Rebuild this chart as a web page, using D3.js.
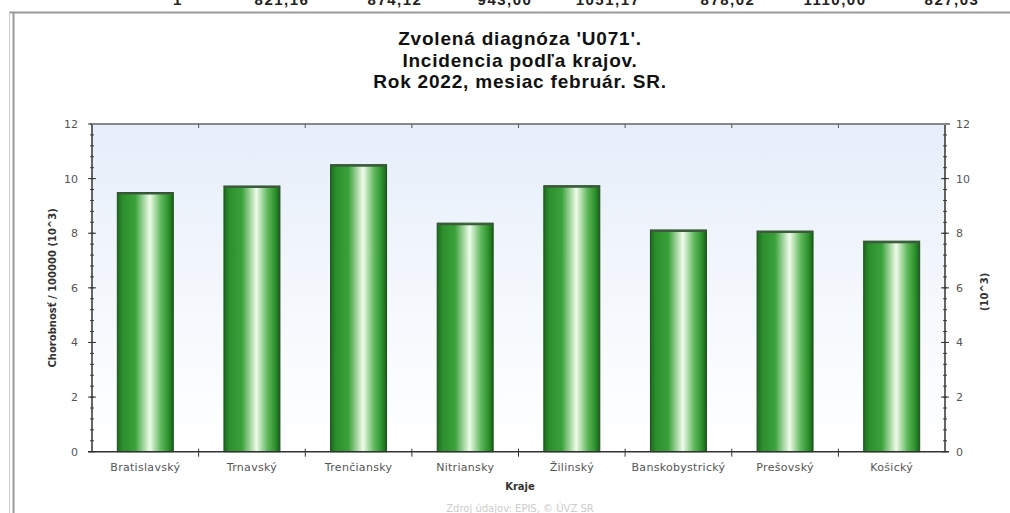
<!DOCTYPE html>
<html>
<head>
<meta charset="utf-8">
<script src="https://cdn.jsdelivr.net/npm/d3@7"></script>
<style>
  body { margin: 0; background: #fff; }
  svg { display: block; font-family: "DejaVu Sans", Verdana, sans-serif; }
</style>
</head>
<body>
<div id="chart"></div>
<script>
// data
var regions = ["Bratislavský", "Trnavský", "Trenčiansky", "Nitriansky", "Žilinský", "Banskobystrický", "Prešovský", "Košický"];
var incidence = [9.49, 9.73, 10.51, 8.37, 9.74, 8.12, 8.08, 7.71];
var yTicks = [0, 2, 4, 6, 8, 10, 12];
var titleLines = ["Zvolená diagnóza 'U071'.", "Incidencia podľa krajov.", "Rok 2022, mesiac február. SR."];
var topRow = ["1", "821,16", "874,12", "943,00", "1051,17", "878,02", "1110,00", "827,03"];

var width = 1010, height = 513;
var plot = {left: 92, right: 945, top: 124, bottom: 451.7};

var svg = d3.select('#chart').append('svg')
    .attr("width", width)
    .attr("height", height);

var defs = svg.append("defs");
var bg = defs.append("linearGradient").attr("id", "bg")
    .attr("x1", 0).attr("y1", 0).attr("x2", 0).attr("y2", 1);
bg.append("stop").attr("offset", "0%").attr("stop-color", "#e6eefa");
bg.append("stop").attr("offset", "60%").attr("stop-color", "#f6f9fd");
bg.append("stop").attr("offset", "100%").attr("stop-color", "#ffffff");

var barGrad = defs.append("linearGradient").attr("id", "bar")
    .attr("x1", 0).attr("y1", 0).attr("x2", 1).attr("y2", 0);
[["0%", "#1d6b1d"], ["10%", "#2c8f2c"], ["32%", "#3aa23a"], ["58%", "#effbea"], ["78%", "#5fb85c"], ["92%", "#2a902a"], ["100%", "#1b5e1b"]]
  .forEach(function(s){ barGrad.append("stop").attr("offset", s[0]).attr("stop-color", s[1]); });

// cut off row of the table above
var topX = [178, 282, 395, 505, 608, 728, 835, 952];
svg.append("g").selectAll("text")
    .data(topRow).enter().append("text")
    .attr("x", function(d, i){ return topX[i]; })
    .attr("y", 5)
    .attr("text-anchor", "middle")
    .style("font-family", "Liberation Sans, Arial, sans-serif")
    .style("font-size", "15px")
    .style("font-weight", "bold")
    .style("letter-spacing", "1.5px")
    .style("fill", "#222")
    .text(function(d){ return d; });

// frame
svg.append("line").attr("x1", 9).attr("x2", width).attr("y1", 12.5).attr("y2", 12.5)
    .style("stroke", "#9a9a9a").style("stroke-width", 2);
svg.append("line").attr("x1", 9.5).attr("x2", 9.5).attr("y1", 12).attr("y2", height)
    .style("stroke", "#c8c8c8").style("stroke-width", 1);
svg.append("line").attr("x1", 13.5).attr("x2", 13.5).attr("y1", 12).attr("y2", height)
    .style("stroke", "#9a9a9a").style("stroke-width", 2);

// title
svg.append("g").selectAll("text")
    .data(titleLines).enter().append("text")
    .attr("x", 520)
    .attr("y", function(d, i){ return 45 + i * 21.5; })
    .attr("text-anchor", "middle")
    .style("font-family", "Liberation Sans, Arial, sans-serif")
    .style("font-size", "19px")
    .style("font-weight", "bold")
    .style("letter-spacing", "0.8px")
    .style("fill", "#111")
    .text(function(d){ return d; });

var x = d3.scaleBand().domain(regions).range([plot.left, plot.right])
    .paddingInner(0.475).paddingOuter(0.2375);
var y = d3.scaleLinear().domain([0, 12]).range([plot.bottom, plot.top]);

svg.append("rect")
    .attr("x", plot.left).attr("y", plot.top)
    .attr("width", plot.right - plot.left).attr("height", plot.bottom - plot.top)
    .attr("fill", "url(#bg)");

// bars
var bars = svg.append("g").selectAll("g")
    .data(regions).enter().append("g");
bars.append("rect")
    .attr("x", function(d){ return x(d); })
    .attr("y", function(d, i){ return y(incidence[i]); })
    .attr("width", x.bandwidth())
    .attr("height", function(d, i){ return y(0) - y(incidence[i]); })
    .attr("fill", "url(#bar)")
    .style("stroke", "#1c4f1c")
    .style("stroke-width", 1);
bars.append("line")
    .attr("x1", function(d){ return x(d); })
    .attr("x2", function(d){ return x(d) + x.bandwidth(); })
    .attr("y1", function(d, i){ return y(incidence[i]) + 1; })
    .attr("y2", function(d, i){ return y(incidence[i]) + 1; })
    .style("stroke", "#3d5a3d").style("stroke-width", 2);

// axes
var minor = d3.range(0, 12.001, 0.4);
function yAxis(side) {
  var x0 = side == "left" ? plot.left : plot.right;
  var g = svg.append("g");
  g.selectAll(".minor").data(minor).enter().append("line")
    .attr("x1", x0 - 2).attr("x2", x0 + 2)
    .attr("y1", function(d){ return y(d); }).attr("y2", function(d){ return y(d); })
    .style("stroke", "#444");
  g.selectAll(".major").data(yTicks).enter().append("line")
    .attr("x1", x0 - 4).attr("x2", x0 + 4)
    .attr("y1", function(d){ return y(d); }).attr("y2", function(d){ return y(d); })
    .style("stroke", "#333");
  g.append("line").attr("x1", x0).attr("x2", x0)
    .attr("y1", plot.top).attr("y2", plot.bottom)
    .style("stroke", "#333").style("stroke-width", 1.5);
  g.selectAll("text").data(yTicks).enter().append("text")
    .attr("x", side == "left" ? x0 - 14 : x0 + 11)
    .attr("y", function(d){ return y(d) + 4; })
    .attr("text-anchor", side == "left" ? "end" : "start")
    .style("font-size", "11px")
    .style("fill", "#555")
    .text(function(d){ return d; });
}
yAxis("left");
yAxis("right");

// top and bottom lines with ticks on band boundaries
var bounds = d3.range(1, regions.length).map(function(i){ return plot.left + i * x.step(); });
svg.append("line").attr("x1", plot.left).attr("x2", plot.right + 5)
    .attr("y1", plot.top).attr("y2", plot.top)
    .style("stroke", "#888").style("stroke-width", 2);
svg.append("line").attr("x1", plot.left - 4).attr("x2", plot.right + 4)
    .attr("y1", plot.bottom).attr("y2", plot.bottom)
    .style("stroke", "#333").style("stroke-width", 1.5);
svg.append("g").selectAll("line").data(bounds).enter().append("line")
    .attr("x1", function(d){ return d; }).attr("x2", function(d){ return d; })
    .attr("y1", plot.top).attr("y2", plot.top + 4)
    .style("stroke", "#555");
svg.append("g").selectAll("line").data(bounds).enter().append("line")
    .attr("x1", function(d){ return d; }).attr("x2", function(d){ return d; })
    .attr("y1", plot.bottom - 3).attr("y2", plot.bottom + 5)
    .style("stroke", "#333");

// category labels
svg.append("g").selectAll("text").data(regions).enter().append("text")
    .attr("x", function(d){ return x(d) + x.bandwidth() / 2; })
    .attr("y", 471)
    .attr("text-anchor", "middle")
    .style("font-size", "11px")
    .style("letter-spacing", "0.3px")
    .style("fill", "#555")
    .text(function(d){ return d; });

svg.append("text")
    .attr("x", 520).attr("y", 490)
    .attr("text-anchor", "middle")
    .style("font-size", "10px").style("font-weight", "bold").style("fill", "#333")
    .text("Kraje");

svg.append("text")
    .attr("x", 520).attr("y", 512)
    .attr("text-anchor", "middle")
    .style("font-size", "10px").style("fill", "#ccc")
    .text("Zdroj údajov: EPIS, © ÚVZ SR");

svg.append("text")
    .attr("transform", "translate(56," + ((plot.top + plot.bottom) / 2) + ") rotate(-90)")
    .attr("text-anchor", "middle")
    .style("font-size", "10px").style("font-weight", "bold").style("fill", "#333")
    .text("Chorobnosť / 100000 (10^3)");

svg.append("text")
    .attr("transform", "translate(988," + ((plot.top + plot.bottom) / 2 + 4) + ") rotate(-90)")
    .attr("text-anchor", "middle")
    .style("font-size", "10px").style("font-weight", "bold").style("fill", "#333")
    .text("(10^3)");
</script>
</body>
</html>
